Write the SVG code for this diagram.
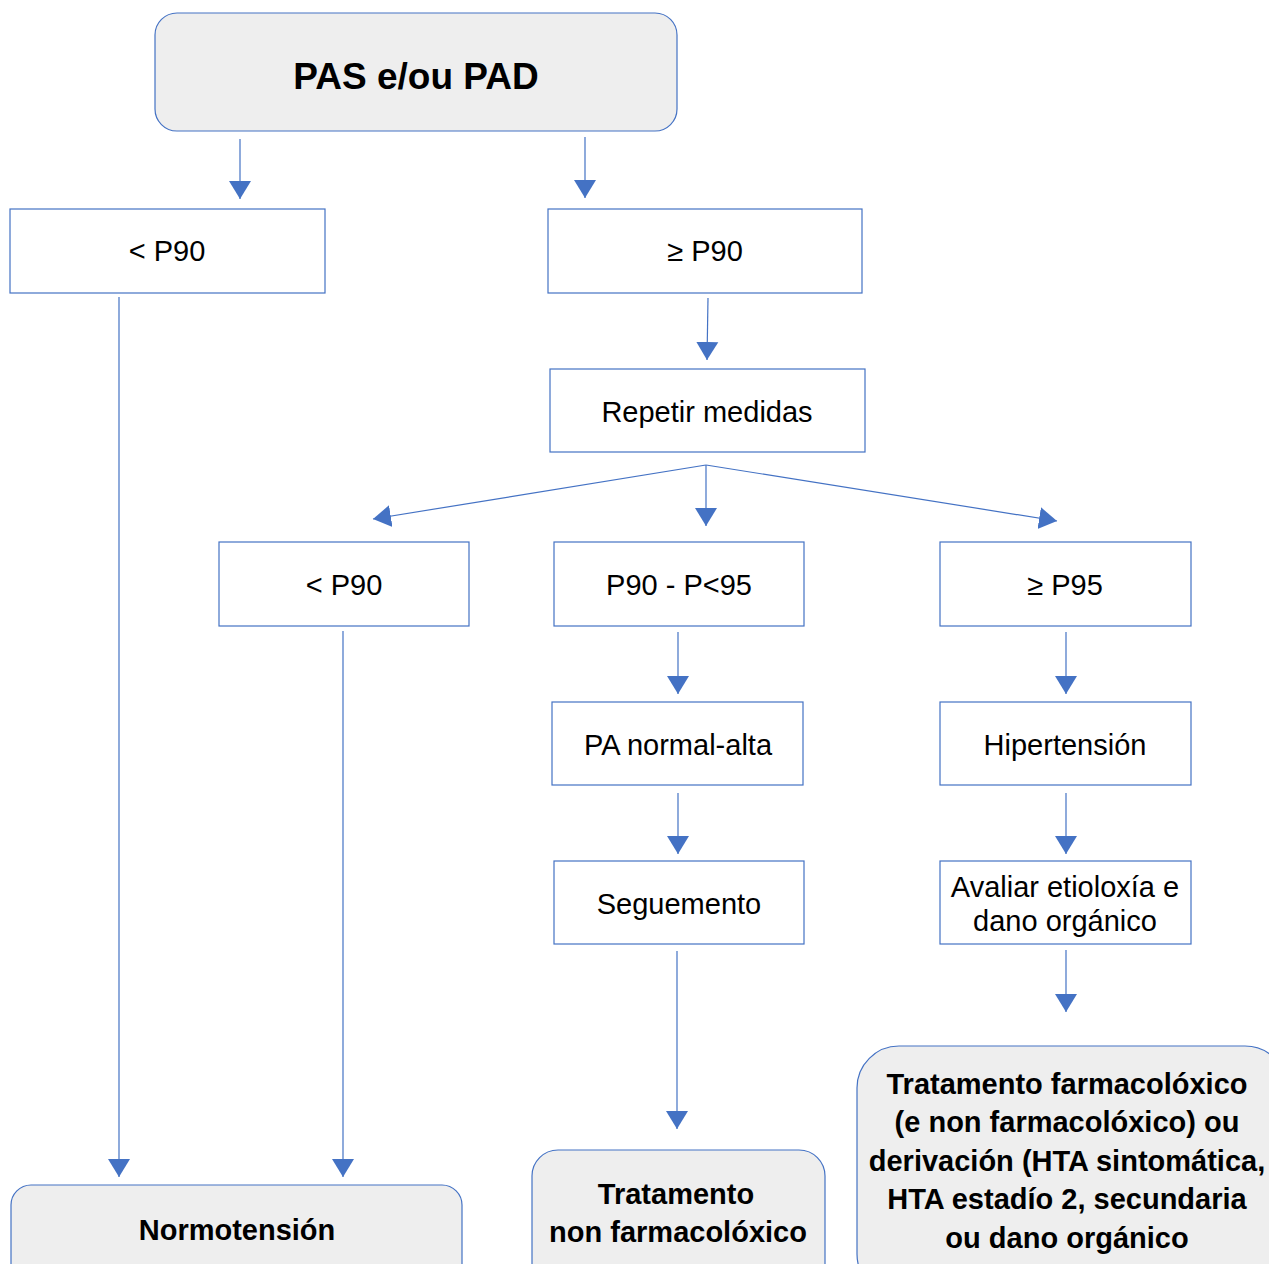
<svg xmlns="http://www.w3.org/2000/svg" width="1269" height="1264" viewBox="0 0 1269 1264">
<defs>
<marker id="ah" markerUnits="userSpaceOnUse" markerWidth="19" markerHeight="24" refX="18" refY="12" orient="auto" viewBox="0 0 19 24">
<path d="M0,1 L18,12 L0,23 z" fill="#4472c4"/>
</marker>
<style>
.box{fill:#ffffff;stroke:#4472c4;stroke-width:1.2}
.rbox{fill:#eeeeee;stroke:#4472c4;stroke-width:1.2}
.t{font-family:"Liberation Sans",Arial,sans-serif;font-size:29px;fill:#000;text-anchor:middle}
.b{font-family:"Liberation Sans",Arial,sans-serif;font-size:29px;font-weight:bold;fill:#000;text-anchor:middle}
.c line{stroke:#4472c4;stroke-width:1.2;marker-end:url(#ah)}
</style>
</defs>
<rect width="1269" height="1264" fill="#ffffff"/>
<g id="n-top"><rect class="rbox" x="155" y="13" width="522" height="118" rx="22"/><text class="b" x="416" y="89" style="font-size:37px">PAS e/ou PAD</text></g>
<g id="n-lt90"><rect class="box" x="10" y="209" width="315" height="84"/><text class="t" x="167" y="261">&lt; P90</text></g>
<g id="n-ge90"><rect class="box" x="548" y="209" width="314" height="84"/><text class="t" x="705" y="261">≥ P90</text></g>
<g id="n-rep"><rect class="box" x="550" y="369" width="315" height="83"/><text class="t" x="707" y="422">Repetir medidas</text></g>
<g id="n-lt90b"><rect class="box" x="219" y="542" width="250" height="84"/><text class="t" x="344" y="595">&lt; P90</text></g>
<g id="n-p9095"><rect class="box" x="554" y="542" width="250" height="84"/><text class="t" x="679" y="595">P90 - P&lt;95</text></g>
<g id="n-ge95"><rect class="box" x="940" y="542" width="251" height="84"/><text class="t" x="1065" y="595">≥ P95</text></g>
<g id="n-pana"><rect class="box" x="552" y="702" width="251" height="83"/><text class="t" x="678" y="755">PA normal-alta</text></g>
<g id="n-hip"><rect class="box" x="940" y="702" width="251" height="83"/><text class="t" x="1065" y="755">Hipertensión</text></g>
<g id="n-seg"><rect class="box" x="554" y="861" width="250" height="83"/><text class="t" x="679" y="914">Seguemento</text></g>
<g id="n-aval"><rect class="box" x="940" y="861" width="251" height="83"/><text class="t" x="1065" y="897">Avaliar etioloxía e</text><text class="t" x="1065" y="931">dano orgánico</text></g>
<g id="n-normo"><rect class="rbox" x="11" y="1185" width="451" height="110" rx="20"/><text class="b" x="237" y="1240">Normotensión</text></g>
<g id="n-tnf"><rect class="rbox" x="532" y="1150" width="293" height="140" rx="26"/><text class="b" x="676" y="1204">Tratamento</text><text class="b" x="678" y="1242">non farmacolóxico</text></g>
<g id="n-tf"><rect class="rbox" x="857" y="1046" width="430" height="250" rx="42"/>
<text class="b" x="1067" y="1094">Tratamento farmacolóxico</text>
<text class="b" x="1067" y="1132">(e non farmacolóxico) ou</text>
<text class="b" x="1067" y="1171">derivación (HTA sintomática,</text>
<text class="b" x="1067" y="1209">HTA estadío 2, secundaria</text>
<text class="b" x="1067" y="1248">ou dano orgánico</text></g>
<g id="connectors" class="c">
<line x1="240" y1="139" x2="240" y2="199"/>
<line x1="585" y1="137" x2="585" y2="198"/>
<line x1="708" y1="298" x2="707" y2="360"/>
<line x1="706" y1="465" x2="706" y2="526"/>
<line x1="706" y1="465" x2="373" y2="519"/>
<line x1="706" y1="465" x2="1057" y2="521"/>
<line x1="119" y1="297" x2="119" y2="1177"/>
<line x1="343" y1="631" x2="343" y2="1177"/>
<line x1="678" y1="632" x2="678" y2="694"/>
<line x1="678" y1="793" x2="678" y2="854"/>
<line x1="677" y1="951" x2="677" y2="1129"/>
<line x1="1066" y1="632" x2="1066" y2="694"/>
<line x1="1066" y1="793" x2="1066" y2="854"/>
<line x1="1066" y1="950" x2="1066" y2="1012"/>
</g>
</svg>
